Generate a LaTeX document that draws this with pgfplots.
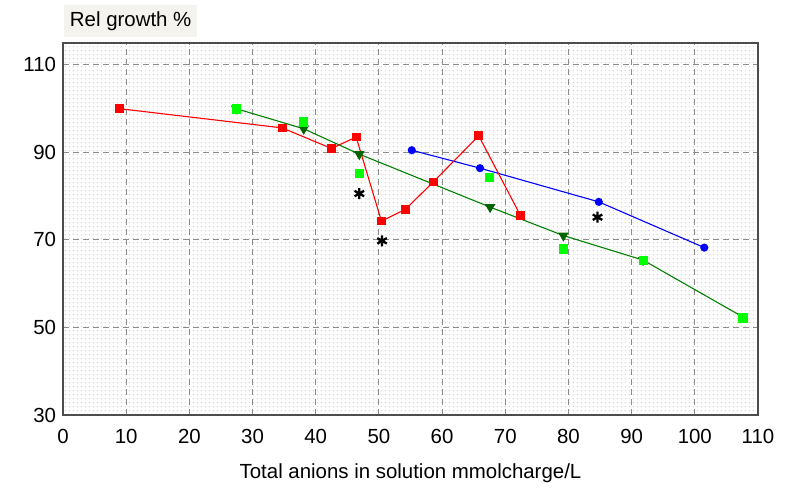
\documentclass[border=0pt]{standalone}
\usepackage{pgfplots}
\pgfplotsset{compat=1.18}
\usepackage{fontspec}
\setmainfont{Liberation Sans}
\usetikzlibrary{patterns.meta}
\definecolor{titlebg}{HTML}{F4F3EE}
\definecolor{dgreen}{HTML}{008000}
\definecolor{tgreen}{HTML}{006400}
\definecolor{bgreen}{HTML}{00FF00}
\tikzdeclarepattern{
  name=bgdots,
  type=uncolored,
  bottom left={(0bp,0bp)},
  top right={(4bp,4bp)},
  tile size={(4bp,4bp)},
  code={\fill (1bp,1bp) rectangle (2bp,2bp);}
}
\begin{document}
\begin{tikzpicture}
\begin{axis}[
  scale only axis,
  width=695bp, height=372bp,
  xmin=0, xmax=110, ymin=30, ymax=115,
  xtick={0,10,...,110}, ytick={30,50,...,110},
  grid=major,
  major grid style={draw=black!45, line width=0.9bp, dash pattern=on 6bp off 4bp},
  major tick length=0pt,
  tick style={draw=none},
  axis line style={draw=black!70, line width=1.5bp},
  /pgf/number format/assume math mode=true,
  ticklabel style={font=\fontsize{20.5}{24}\selectfont},
  xticklabel style={yshift=-11bp},
  yticklabel style={xshift=-3.5bp},
  xlabel={Total anions in solution mmolcharge/L},
  xlabel style={font=\fontsize{20.5}{24}\selectfont, at={(axis description cs:0.5,0)}, anchor=base, yshift=-63bp},
  axis background/.style={fill=white, postaction={pattern=bgdots, pattern color=black!38}},
]
% blue
\addplot[blue, line width=1.1bp, mark=*, mark size=3.5bp, mark options={fill=blue, draw=blue}] coordinates {
  (55.2,90.5) (66.0,86.4) (84.8,78.7) (101.5,68.25)
};
% dark green line with triangles
\addplot[dgreen, line width=1.1bp, mark=triangle*, mark size=5bp, mark options={rotate=180, fill=tgreen, draw=tgreen}] coordinates {
  (27.4,100) (38.1,95.4) (46.9,89.6) (67.6,77.5) (79.2,71.0) (91.8,65.4) (107.6,52.4)
};
% bright green squares
\addplot[only marks, mark=square*, mark size=4.2bp, mark options={fill=bgreen, draw=bgreen}] coordinates {
  (27.4,100) (38.0,97.0) (46.9,85.2) (67.5,84.4) (79.2,68.0) (91.8,65.4) (107.6,52.2)
};
% red
\addplot[red, line width=1.1bp, mark=square*, mark size=3.8bp, mark options={fill=red, draw=red}] coordinates {
  (8.9,100) (34.7,95.6) (42.5,90.9) (46.4,93.5) (50.4,74.3) (54.2,77.0) (58.6,83.25) (65.8,93.8) (72.4,75.6)
};
% asterisks
\addplot[only marks, mark=asterisk, mark size=5.5bp, line width=2.3bp, black] coordinates {
  (46.9,80.6) (50.5,69.8) (84.6,75.2)
};
\end{axis}
\node[anchor=south west, fill=titlebg, inner sep=0pt, minimum width=133bp, minimum height=32bp,
  font=\fontsize{20.5}{24}\selectfont] at ([xshift=1bp, yshift=6bp]current axis.north west) {Rel growth \%};
\path (current axis.south west) ++(-63bp,-73bp) rectangle ++(787bp,488bp);
\end{tikzpicture}
\end{document}
